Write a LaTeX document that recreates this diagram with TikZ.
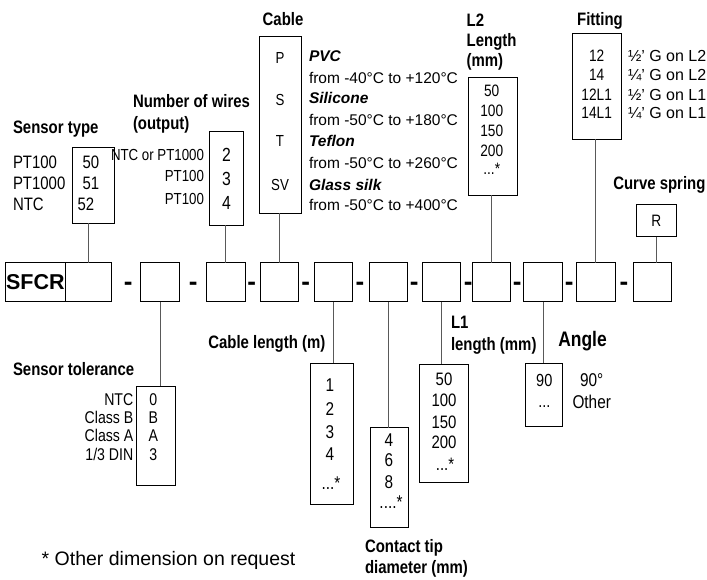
\documentclass[tikz,border=0pt]{standalone}
\usepackage{fontspec}
\setmainfont{Liberation Sans}
\newfontfamily\nar{Liberation Sans}[FakeStretch=0.83]
\newcommand\fsz[1]{\fontsize{#1}{#1}\selectfont}
\tikzset{
  bx/.style={draw=black, line width=0.8pt, inner sep=0pt, outer sep=0pt, minimum height=39pt},
  mb/.style={bx, minimum width=38.4pt},
  ln/.style={draw=black!65, line width=0.8pt},
  lbl/.style={inner sep=0pt, outer sep=0pt, text height=0.72em, text depth=0pt, font=\nar\bfseries\fsz{#1}},
  lbl/.default=18,
  nv/.style={inner sep=0pt, outer sep=0pt, text height=0.72em, text depth=0pt, font=\nar\fsz{#1}},
  nv/.default=18,
  rg/.style={inner sep=0pt, outer sep=0pt, text height=0.72em, text depth=0pt, font=\fsz{#1}},
  rg/.default=16,
  dsh/.style={inner sep=0pt, outer sep=0pt, anchor=base, font=\bfseries\fsz{26}},
}
\begin{document}
\begin{tikzpicture}[x=1pt, y=-1pt]
\fill[white] (0,0) rectangle (707,579);
\useasboundingbox (0,0) rectangle (707,579);

% ---------- main row ----------
\node[bx, minimum width=60.7pt, font=\bfseries\fsz{21.5}] (sfcr) at (35.35,282.35) {SFCR};
\node[bx, minimum width=46pt] (b1) at (88.7,282.35) {};
\node[mb] (b2) at (160,282.35) {};
\node[mb] (b3) at (225.85,282.35) {};
\node[mb] (b4) at (279.15,282.35) {};
\node[mb] (b5) at (333.15,282.35) {};
\node[mb] (b6) at (388.5,282.35) {};
\node[mb] (b7) at (441.65,282.35) {};
\node[mb] (b8) at (491.2,282.35) {};
\node[mb] (b9) at (543,282.35) {};
\node[mb] (b10) at (595.8,282.35) {};
\node[mb] (b11) at (652.5,282.35) {};
\node[dsh] (d1) at (128.3,290.3) {-};
\node[dsh] (d2) at (193.3,290.3) {-};
\node[dsh] (d3) at (251.7,290.3) {-};
\node[dsh] (d4) at (305.7,290.3) {-};
\node[dsh] (d5) at (360,290.3) {-};
\node[dsh] (d6) at (414.3,290.3) {-};
\node[dsh] (d7) at (468.3,290.3) {-};
\node[dsh] (d8) at (517.3,290.3) {-};
\node[dsh] (d9) at (569.3,290.3) {-};
\node[dsh] (d10) at (624,290.3) {-};

% ---------- sensor type ----------
\node[lbl, anchor=west] (lst) at (13,130) {Sensor type};
\node[bx, minimum width=41.7pt, minimum height=76pt] (st) at (93.15,185.3) {};
\node[nv, anchor=west] (st1) at (13,165) {PT100};
\node[nv, anchor=west] (st2) at (13,186) {PT1000};
\node[nv, anchor=west] (st3) at (13,207) {NTC};
\node[nv] (sv1) at (91,165) {50};
\node[nv] (sv2) at (91,186) {51};
\node[nv] (sv3) at (86,207) {52};

% ---------- number of wires ----------
\node[lbl, anchor=west] (lnw) at (133,104) {Number of wires};
\node[lbl, anchor=west] (lnw2) at (133,126) {(output)};
\node[bx, minimum width=34.4pt, minimum height=94pt] (wb) at (226.5,178) {};
\node[nv=16, anchor=east] (w1) at (204,157) {NTC or PT1000};
\node[nv=16, anchor=east] (w2) at (204,178) {PT100};
\node[nv=16, anchor=east] (w3) at (204,201) {PT100};
\node[nv=19] (wv1) at (226.5,158) {2};
\node[nv=19] (wv2) at (226.5,181.5) {3};
\node[nv=19] (wv3) at (226.5,206) {4};

% ---------- cable ----------
\node[lbl] (lcb) at (283,22) {Cable};
\node[bx, minimum width=42.4pt, minimum height=176.6pt] (cb) at (280.5,125) {};
\node[nv=16] (c1) at (280,60) {P};
\node[nv=16] (c2) at (280,102) {S};
\node[nv=16] (c3) at (280,143) {T};
\node[nv=16] (c4) at (280,187) {SV};
\node[rg=15.5, anchor=west] (cd1) at (309,58) {\textbf{\textit{PVC}}};
\node[rg=15.5, anchor=west] (cd2) at (309,80) {from -40°C to +120°C};
\node[rg=15.5, anchor=west] (cd3) at (309,100) {\textbf{\textit{Silicone}}};
\node[rg=15.5, anchor=west] (cd4) at (309,122) {from -50°C to +180°C};
\node[rg=15.5, anchor=west] (cd5) at (309,143) {\textbf{\textit{Teflon}}};
\node[rg=15.5, anchor=west] (cd6) at (309,165) {from -50°C to +260°C};
\node[rg=15.5, anchor=west] (cd7) at (309,187) {\textbf{\textit{Glass silk}}};
\node[rg=15.5, anchor=west] (cd8) at (309,207) {from -50°C to +400°C};

% ---------- L2 ----------
\node[lbl, anchor=west] (ll2a) at (466.7,23) {L2};
\node[lbl, anchor=west] (ll2b) at (466.7,43) {Length};
\node[lbl, anchor=west] (ll2c) at (466.7,63) {(mm)};
\node[bx, minimum width=49pt, minimum height=117.7pt] (l2) at (492.8,136.15) {};
\node[nv=16.5] (l2v1) at (491.7,93) {50};
\node[nv=16.5] (l2v2) at (491.7,113.3) {100};
\node[nv=16.5] (l2v3) at (491.7,133.3) {150};
\node[nv=16.5] (l2v4) at (491.7,153.3) {200};
\node[nv=16.5] (l2v5) at (491.7,171) {...*};

% ---------- fitting ----------
\node[lbl] (lfb) at (600,22) {Fitting};
\node[bx, minimum width=49pt, minimum height=106pt] (fb) at (597.2,86.3) {};
\node[nv=16.5] (f1) at (596.7,58) {12};
\node[nv=16.5] (f2) at (596.7,77) {14};
\node[nv=16.5] (f3) at (596.7,97) {12L1};
\node[nv=16.5] (f4) at (596.7,115) {14L1};
\node[rg=16, anchor=west] (fd1) at (628,58) {½' G on L2};
\node[rg=16, anchor=west] (fd2) at (628,77) {¼' G on L2};
\node[rg=16, anchor=west] (fd3) at (628,97) {½' G on L1};
\node[rg=16, anchor=west] (fd4) at (628,115) {¼' G on L1};

% ---------- curve spring ----------
\node[lbl, anchor=west] (lcs) at (613.3,186) {Curve spring};
\node[bx, minimum width=39.3pt, minimum height=32.4pt, font=\nar\fsz{16.5}] (rb) at (656.35,220.5) {R};

% ---------- sensor tolerance ----------
\node[lbl, anchor=west] (ltol) at (13,371.7) {Sensor tolerance};
\node[bx, minimum width=38.3pt, minimum height=99.7pt] (tol) at (155.85,435.85) {};
\node[nv=17, anchor=east] (t1) at (133.3,401.7) {NTC};
\node[nv=17, anchor=east] (t2) at (133.3,420) {Class B};
\node[nv=17, anchor=east] (t3) at (133.3,438.3) {Class A};
\node[nv=17, anchor=east] (t4) at (133.3,456.7) {1/3 DIN};
\node[nv=17] (tv1) at (153.3,401.7) {0};
\node[nv=17] (tv2) at (153.3,420) {B};
\node[nv=17] (tv3) at (153.3,438.3) {A};
\node[nv=17] (tv4) at (153.3,456.7) {3};

% ---------- cable length ----------
\node[lbl, anchor=west] (lcl) at (208.3,345) {Cable length (m)};
\node[bx, minimum width=43.3pt, minimum height=141pt] (cl) at (331.65,433.8) {};
\node[nv=18.5] (cl1) at (330,388.3) {1};
\node[nv=18.5] (cl2) at (330,411.7) {2};
\node[nv=18.5] (cl3) at (330,435) {3};
\node[nv=18.5] (cl4) at (330,456.7) {4};
\node[nv=18.5] (cl5) at (331,486) {...*};

% ---------- contact tip ----------
\node[bx, minimum width=38.3pt, minimum height=99.6pt] (ct) at (389.15,477.5) {};
\node[nv=18.5] (ct1) at (389,443.3) {4};
\node[nv=18.5] (ct2) at (389,463.3) {6};
\node[nv=18.5] (ct3) at (389,485) {8};
\node[nv=18.5] (ct4) at (391,505) {....*};
\node[lbl, anchor=west] (lct1) at (365,549.3) {Contact tip};
\node[lbl, anchor=west] (lct2) at (365,570) {diameter (mm)};

% ---------- L1 ----------
\node[lbl, anchor=west] (ll1a) at (451,325) {L1};
\node[lbl, anchor=west] (ll1b) at (451,346.7) {length (mm)};
\node[bx, minimum width=49pt, minimum height=118.4pt] (l1) at (443.8,423.5) {};
\node[nv] (l1v1) at (444,381.7) {50};
\node[nv] (l1v2) at (444,403.3) {100};
\node[nv] (l1v3) at (444,425) {150};
\node[nv] (l1v4) at (444,445) {200};
\node[nv] (l1v5) at (445,467) {...*};

% ---------- angle ----------
\node[lbl=21, anchor=west] (lang) at (558.3,343.3) {Angle};
\node[bx, minimum width=37.7pt, minimum height=62.7pt] (ang) at (543.85,394.65) {};
\node[nv=17.5] (a1) at (544.3,383.3) {90};
\node[nv=17.5] (a2) at (544.3,404) {...};
\node[nv=18.5] (ad1) at (591.7,383.3) {90°};
\node[nv=18.5] (ad2) at (591.7,405) {Other};

% ---------- footnote ----------
\node[rg=19.5, anchor=west] (foot) at (41.7,561.7) {* Other dimension on request};

% ---------- connectors ----------
\draw[ln] (b1.north) -- (b1.north |- st.south);
\draw[ln] (b3.north) -- (b3.north |- wb.south);
\draw[ln] (b4.north) -- (b4.north |- cb.south);
\draw[ln] (b8.north) -- (b8.north |- l2.south);
\draw[ln] (b10.north) -- (b10.north |- fb.south);
\draw[ln] (rb.south) -- (rb.south |- b11.north);
\draw[ln] (b2.south) -- (b2.south |- tol.north);
\draw[ln] (b5.south) -- (b5.south |- cl.north);
\draw[ln] (b6.south) -- (b6.south |- ct.north);
\draw[ln] (b7.south) -- (b7.south |- l1.north);
\draw[ln] (b9.south) -- (b9.south |- ang.north);
\end{tikzpicture}
\end{document}
